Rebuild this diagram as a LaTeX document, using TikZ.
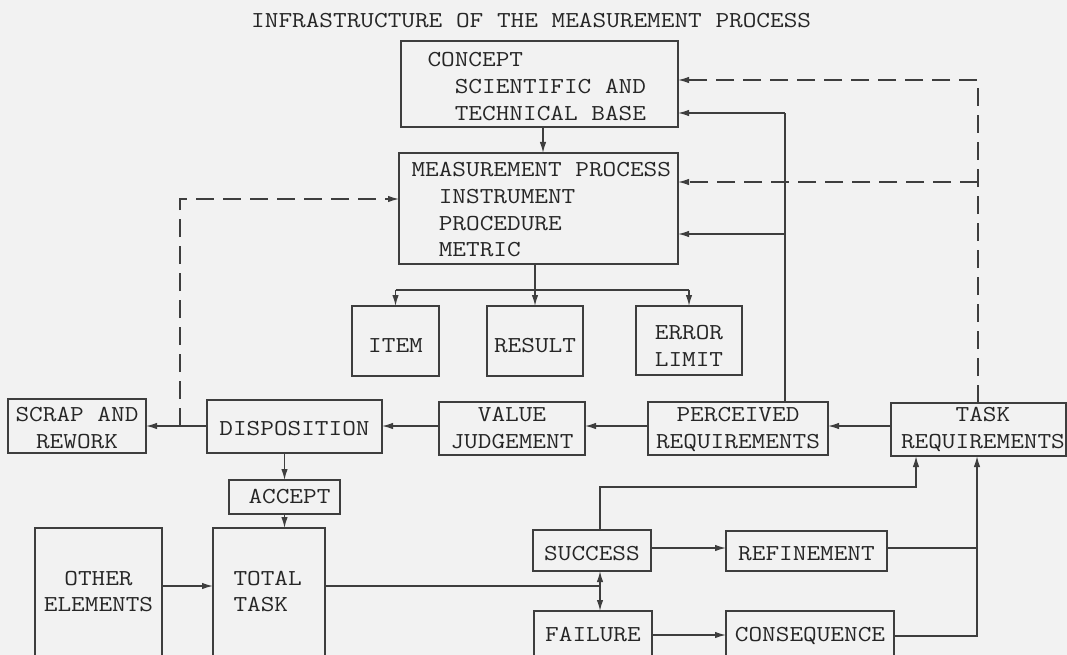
\documentclass[tikz,border=0pt]{standalone}
\usepackage{graphicx}
\usetikzlibrary{arrows.meta}
\definecolor{ink}{RGB}{62,62,62}
\definecolor{bg}{RGB}{242,242,242}
\definecolor{txt}{RGB}{38,38,38}
\newcommand\tw[1]{\scalebox{1.163}[1]{#1}}
\newcommand\bc[2]{\makebox[#1][c]{\tw{\begin{tabular}[t]{@{}c@{}}#2\end{tabular}}}}
\newcommand\bll[3]{\makebox[#1][l]{\hspace*{#2}\tw{\begin{tabular}[t]{@{}l@{}}#3\end{tabular}}}}
\begin{document}
\begin{tikzpicture}[x=1pt,y=-1pt,
  blk/.style={draw=ink, line width=1.5pt, inner sep=0pt, outer sep=0pt, anchor=north west, text=txt, font=\fontsize{22.8}{26.7}\ttfamily},
  conn/.style={draw=ink, line width=1.4pt},
  arr/.style={conn, -{Latex[length=11pt,width=6.5pt]}},
  dsh/.style={dash pattern=on 18pt off 9pt}]
\useasboundingbox (0,0) rectangle (1067,655);
\fill[bg] (0,0) rectangle (1067,655);
\clip (0,0) rectangle (1067,655);

\node[anchor=base west, inner sep=0pt, text=txt, font=\fontsize{22.8}{26.7}\ttfamily] (title) at (251,27.3) {\tw{INFRASTRUCTURE OF THE MEASUREMENT PROCESS}};

\node[blk, text height=25.7pt, text depth=60.3pt] (concept) at (401,41) {\bll{277pt}{26.5pt}{CONCEPT\\\phantom{XX}SCIENTIFIC AND\\\phantom{XX}TECHNICAL BASE}};
\node[blk, text height=23.7pt, text depth=87.3pt] (mp) at (399,153) {\bll{279pt}{12.5pt}{MEASUREMENT PROCESS\\\phantom{XX}INSTRUMENT\\\phantom{XX}PROCEDURE\\\phantom{XX}METRIC}};
\node[blk, text height=46.7pt, text depth=23.3pt] (item) at (352,306) {\bc{87pt}{ITEM}};
\node[blk, text height=46.7pt, text depth=23.3pt] (result) at (487,306) {\bc{96pt}{RESULT}};
\node[blk, text height=33.3pt, text depth=35.7pt] (error) at (636,306) {\bc{106pt}{ERROR\\LIMIT}};
\node[blk, text height=22.7pt, text depth=31.3pt] (scrap) at (8,399) {\bc{138pt}{SCRAP AND\\REWORK}};
\node[blk, text height=35pt, text depth=18pt] (disp) at (207,400) {\bc{175pt}{DISPOSITION}};
\node[blk, text height=19.7pt, text depth=33.3pt] (value) at (439,402) {\bc{146pt}{VALUE\\JUDGEMENT}};
\node[blk, text height=19.7pt, text depth=33.3pt] (perc) at (648,402) {\bc{180pt}{PERCEIVED\\REQUIREMENTS}};
\node[blk, text height=18.7pt, text depth=34.3pt] (task) at (891,403) {\bll{175pt}{10pt}{\phantom{XXXX}TASK\\REQUIREMENTS}};
\node[blk, text height=23.3pt, text depth=10.7pt] (accept) at (229,480) {\bll{111pt}{19.5pt}{ACCEPT}};
\node[blk, text height=57pt, text depth=95pt] (other) at (35,528) {\bc{127pt}{OTHER\\ELEMENTS}};
\node[blk, text height=57pt, text depth=95pt] (total) at (213,528) {\bll{112pt}{20.5pt}{TOTAL\\TASK}};
\node[blk, text height=30pt, text depth=11pt] (success) at (533,530) {\bc{118pt}{SUCCESS}};
\node[blk, text height=29pt, text depth=11pt] (refine) at (726,531) {\bc{161pt}{REFINEMENT}};
\node[blk, text height=30.7pt, text depth=38.3pt] (failure) at (534,611) {\bc{118pt}{FAILURE}};
\node[blk, text height=30.7pt, text depth=38.3pt] (conseq) at (726,611) {\bc{168pt}{CONSEQUENCE}};

\coordinate (cx) at (543,0);
\coordinate (br) at (535,290);
\coordinate (pA) at (785,113);
\coordinate (pB) at (785,234);
\coordinate (hy) at (0,426);
\coordinate (dA) at (180,426);
\coordinate (dB) at (180,199);
\coordinate (ty) at (0,586);
\coordinate (sx) at (600,586);
\coordinate (ry) at (0,548);
\coordinate (cy) at (0,635);
\coordinate (uA) at (916,487);
\coordinate (vx) at (977,636);
\coordinate (dT) at (978,80);
\coordinate (dM) at (978,182);

\draw[arr] (concept.south -| cx) -- (mp.north -| cx);
\draw[conn] (mp.south -| br) -- (br);
\draw[conn] (item.north |- br) -- (error.north |- br);
\draw[arr] (item.north |- br) -- (item.north);
\draw[arr] (br) -- (result.north -| br);
\draw[arr] (error.north |- br) -- (error.north);
\draw[conn] (perc.north -| pA) -- (pA);
\draw[arr] (pA) -- (concept.east |- pA);
\draw[arr] (pB) -- (mp.east |- pB);
\draw[arr] (task.west |- hy) -- (perc.east |- hy);
\draw[arr] (perc.west |- hy) -- (value.east |- hy);
\draw[arr] (value.west |- hy) -- (disp.east |- hy);
\draw[arr] (disp.west |- hy) -- (scrap.east |- hy);
\draw[arr,dsh] (dA) -- (dB) -- (mp.west |- dB);
\draw[arr] (disp.south -| accept.north) -- (accept.north);
\draw[arr] (accept.south) -- (accept.south |- total.north);
\draw[arr] (other.east |- ty) -- (total.west |- ty);
\draw[conn] (total.east |- sx) -- (sx);
\draw[arr] (sx) -- (success.south -| sx);
\draw[arr] (sx) -- (failure.north -| sx);
\draw[arr] (success.east |- ry) -- (refine.west |- ry);
\draw[arr] (failure.east |- cy) -- (conseq.west |- cy);
\draw[arr] (success.north -| sx) |- (uA) -- (task.south -| uA);
\draw[conn] (refine.east |- ry) -- (vx |- ry);
\draw[arr] (conseq.east |- vx) -| (task.south -| vx);
\draw[arr,dsh] (task.north -| dT) -- (dT) -- (concept.east |- dT);
\draw[arr,dsh] (dM) -- (mp.east |- dM);
\end{tikzpicture}
\end{document}
